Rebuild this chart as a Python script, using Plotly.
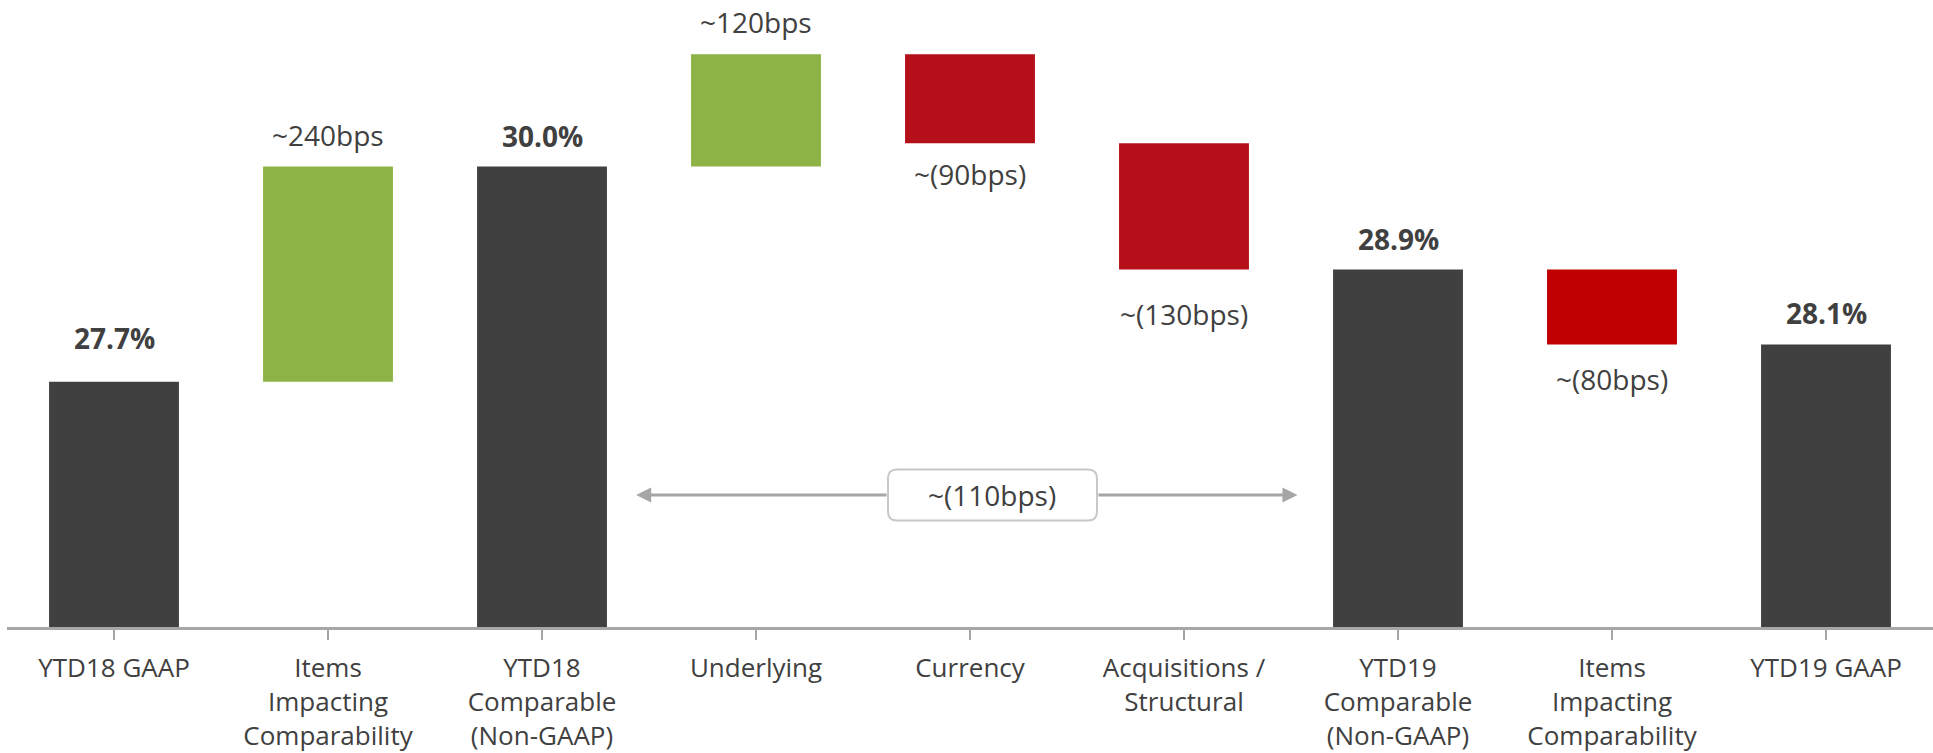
import plotly.graph_objects as go

# ---- data ----
categories = ["YTD18 GAAP", "Items<br>Impacting<br>Comparability", "YTD18<br>Comparable<br>(Non-GAAP)",
              "Underlying", "Currency", "Acquisitions /<br>Structural", "YTD19<br>Comparable<br>(Non-GAAP)",
              "Items<br>Impacting<br>Comparability", "YTD19 GAAP"]
measures = ["total", "relative", "total", "relative", "relative", "relative", "total", "relative", "total"]
values = [27.7, 2.3, 30.0, 1.2, -0.95, -1.35, 28.9, -0.8, 28.1]
labels = ["27.7%", "~240bps", "30.0%", "~120bps", "~(90bps)", "~(130bps)", "28.9%", "~(80bps)", "28.1%"]
bar_colors = ["#404040", "#8DB347", "#404040", "#8DB347", "#B5101A", "#B5101A", "#404040", "#C00000", "#404040"]
bridge_label = "~(110bps)"

# extra label offsets (pixels) to mimic the reference's placement
label_extra = {0: 13, 5: -13, 7: -4}

# ---- compute bases ----
xs = list(range(len(categories)))
bases, heights = [], []
running = 0.0
for m, v in zip(measures, values):
    if m == "total":
        bases.append(0.0)
        heights.append(v)
        running = v
    else:
        bases.append(running)
        heights.append(v)
        running += v

fig = go.Figure()
fig.add_trace(go.Bar(x=xs, y=heights, base=bases, marker=dict(color=bar_colors, line=dict(width=0)),
                     width=0.607, hoverinfo="skip", showlegend=False))

TXT = "#404040"
FONT = "Open Sans"
annotations = []
for i, (m, b, h, lab) in enumerate(zip(measures, bases, heights, labels)):
    top = max(b, b + h)
    bot = min(b, b + h)
    extra = label_extra.get(i, 0)
    if m == "total":
        annotations.append(dict(x=i, y=top, text="<b>" + lab + "</b>", showarrow=False, yanchor="bottom",
                                yshift=10 + extra, font=dict(family=FONT, size=28, color=TXT)))
    elif h >= 0:
        annotations.append(dict(x=i, y=top, text=lab, showarrow=False, yanchor="bottom",
                                yshift=11 + extra, font=dict(family=FONT, size=28, color=TXT)))
    else:
        annotations.append(dict(x=i, y=bot, text=lab, showarrow=False, yanchor="top",
                                yshift=-10 + extra, font=dict(family=FONT, size=28, color=TXT)))

# bridge arrow between YTD18 comparable and YTD19 comparable
arrow_y = 26.49
left_tip, right_tip = 2.44, 5.53
box_left, box_right, box_cx = 3.617, 4.593, 4.105
ARROW = "#A6A6A6"
annotations.append(dict(x=left_tip, y=arrow_y, ax=box_left, ay=arrow_y, axref="x", ayref="y",
                        showarrow=True, arrowhead=2, arrowsize=1, arrowwidth=3, arrowcolor=ARROW,
                        standoff=0, text=""))
annotations.append(dict(x=right_tip, y=arrow_y, ax=box_right, ay=arrow_y, axref="x", ayref="y",
                        showarrow=True, arrowhead=2, arrowsize=1, arrowwidth=3, arrowcolor=ARROW,
                        standoff=0, text=""))
annotations.append(dict(x=box_cx, y=arrow_y, text=bridge_label, showarrow=False,
                        font=dict(family=FONT, size=28, color=TXT)))

w, h, r = 209, 51, 9
hw, hh = w / 2, h / 2
path = (f"M{-hw + r},{-hh} L{hw - r},{-hh} Q{hw},{-hh} {hw},{-hh + r} L{hw},{hh - r} Q{hw},{hh} {hw - r},{hh} "
        f"L{-hw + r},{hh} Q{-hw},{hh} {-hw},{hh - r} L{-hw},{-hh + r} Q{-hw},{-hh} {-hw + r},{-hh} Z")
shapes = [dict(type="path", xref="x", yref="y", xsizemode="pixel", ysizemode="pixel",
               xanchor=box_cx, yanchor=arrow_y, path=path, fillcolor="white",
               line=dict(color="#C8C8C8", width=2), layer="above")]

fig.update_layout(
    width=1933, height=753,
    margin=dict(l=7, r=0, t=0, b=121),
    paper_bgcolor="white", plot_bgcolor="white",
    bargap=0.393,
    annotations=annotations,
    shapes=shapes,
    xaxis=dict(tickmode="array", tickvals=xs, ticktext=categories, range=[-0.5, 8.5],
               showline=True, linecolor="#A6A6A6", linewidth=3, tickson="boundaries",
               ticks="outside", ticklen=10, tickwidth=2, tickcolor="#A6A6A6",
               ticklabelstandoff=6,
               showgrid=False, zeroline=False,
               tickfont=dict(family=FONT, size=26, color=TXT)),
    yaxis=dict(visible=False, range=[25.08, 31.78], showgrid=False, zeroline=False),
)

fig.write_html("out.html")
